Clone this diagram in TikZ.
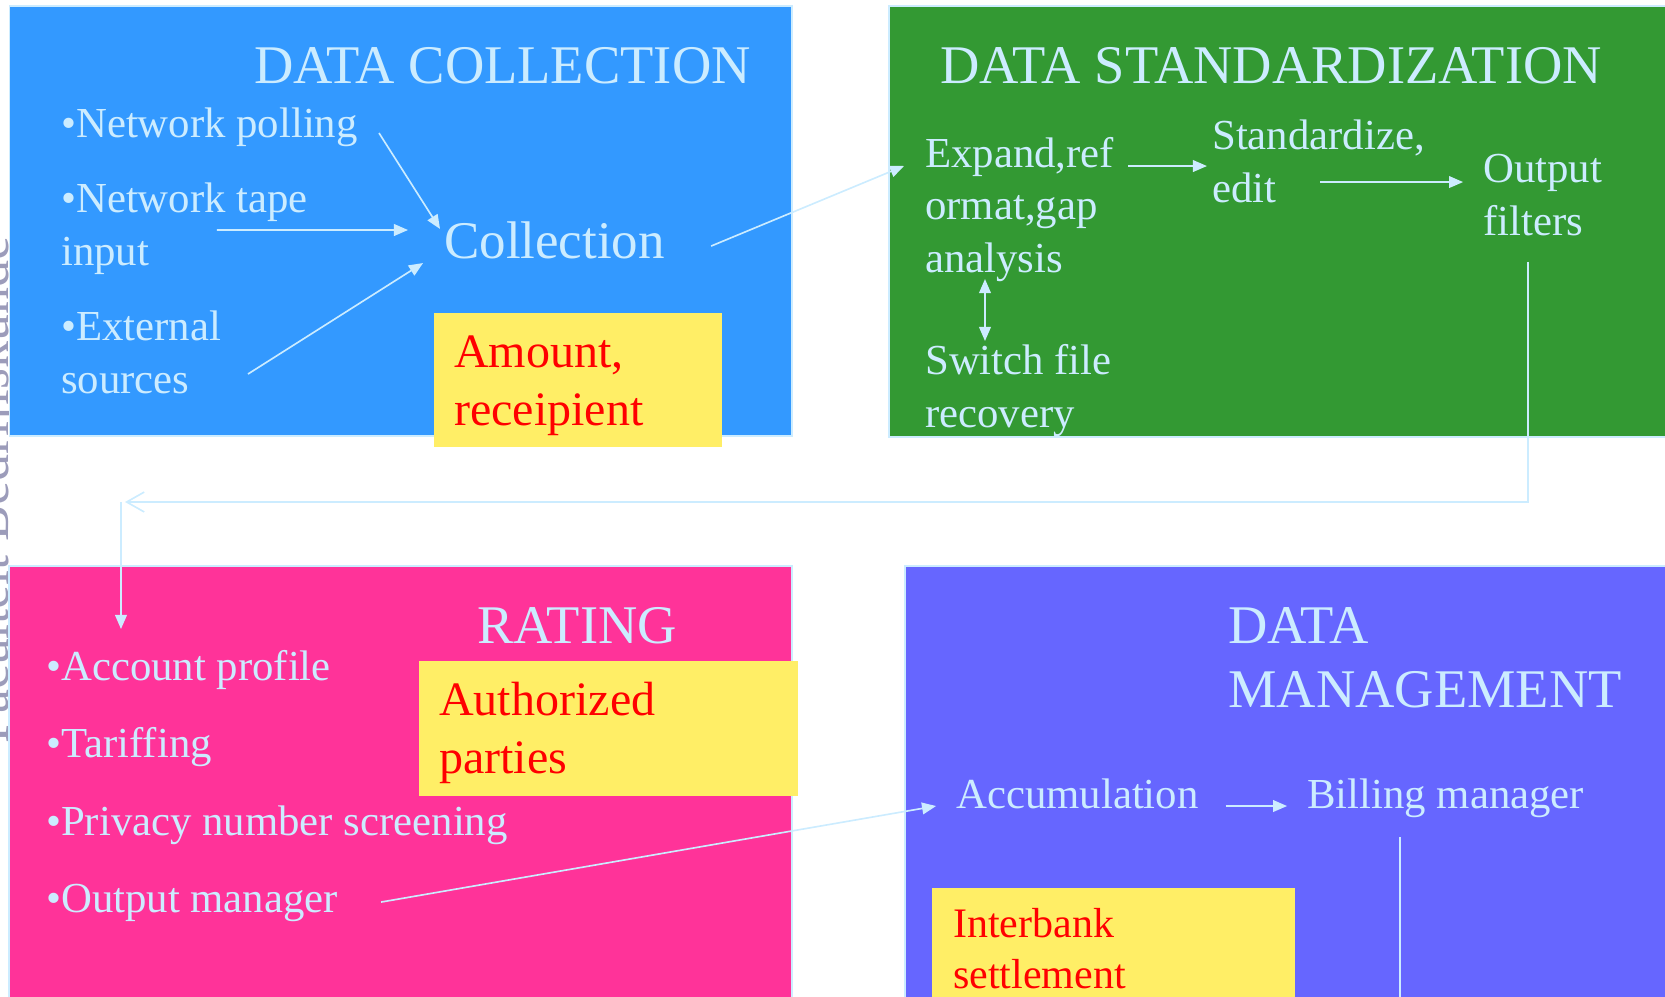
\documentclass[tikz,border=0pt]{standalone}
\usepackage{fontspec}
\setmainfont{Liberation Serif}
\usetikzlibrary{arrows.meta}

\definecolor{panelblue}{HTML}{3399FF}
\definecolor{panelgreen}{HTML}{339933}
\definecolor{panelpink}{HTML}{FF3399}
\definecolor{panelviolet}{HTML}{6666FF}
\definecolor{notebg}{HTML}{FFEE66}
\definecolor{paletext}{HTML}{CCECFF}
\definecolor{markgray}{HTML}{9C9CBA}

\begin{document}
\begin{tikzpicture}[x=0.03cm, y=-0.03cm,
  panel/.style={draw=paletext, line width=1.6pt},
  txt/.style={text=paletext, inner sep=0pt, anchor=base west, align=left,
    font=\fontsize{36.5}{44.4}\selectfont},
  head/.style={txt, font=\fontsize{46.5}{54.6}\selectfont},
  note/.style={txt, text=red, font=\fontsize{41}{48.7}\selectfont},
  link/.style={draw=paletext, line width=1.4pt},
  arr/.style={link, -{Triangle[length=12pt, width=10pt]}},
]
\useasboundingbox (0,0) rectangle (1665,996);

% ====== side watermark ======
\node[text=markgray, inner sep=0pt, rotate=90, anchor=base west,
  font=\fontsize{46}{50}\selectfont] (mark) at (8.5,744) {Faculteit Bedrijfskunde};

% ====== panels ======
\path[panel, fill=panelblue]   (9.5,6) rectangle (792,436);
\path[panel, fill=panelgreen]  (889,6) rectangle (1680,437);
\path[panel, fill=panelpink]   (9,566) rectangle (792,1010);
\path[panel, fill=panelviolet] (905,566) rectangle (1680,1010);

% yellow notes
\fill[notebg] (434,313) rectangle (722,447);
\fill[notebg] (419,661) rectangle (798,796);
\fill[notebg] (932,888) rectangle (1295,1010);

% ====== data collection ======
% (multi-line nodes sit on the baseline of their last line)
\node[head] (coltitle) at (254,83) {DATA COLLECTION};
\node[txt] (poll) at (61,137) {•Network polling};
\node[txt] (tape) at (61,265) {•Network tape\\input};
\node[txt] (ext) at (61,393) {•External\\sources};
\node[txt, font=\fontsize{45.2}{54.6}\selectfont] (coll) at (444,258) {Collection};
\node[note] (amount) at (454,425) {Amount,\\receipient};

% ====== data standardization ======
\node[head] (stdtitle) at (940,83) {DATA STANDARDIZATION};
\node[txt] (expand) at (925,272) {Expand,ref\\ormat,gap\\analysis};
\node[txt] (stdz) at (1212,202) {Standardize,\\edit};
\node[txt] (outf) at (1483,235) {Output\\filters};
\node[txt] (switch) at (925,427) {Switch file\\recovery};

% ====== rating ======
\node[head] (ratetitle) at (477,643) {RATING};
\node[txt] (acct) at (46,680) {•Account profile};
\node[txt] (tariff) at (46,757) {•Tariffing};
\node[txt] (privacy) at (46,835) {•Privacy number screening};
\node[txt] (outmgr) at (46,912) {•Output manager};
\node[note] (auth) at (439,773) {Authorized\\parties};

% ====== data management ======
\node[head] (mgmttitle) at (1228,707) {DATA\\MANAGEMENT};
\node[txt] (accum) at (956,808) {Accumulation};
\node[txt] (billing) at (1307,808) {Billing manager};
\node[txt, text=red, font=\fontsize{35.85}{42.7}\selectfont] (interbank) at (953,988) {Interbank\\settlement};

% ====== connectors ======
\draw[arr] ([xshift=18pt, yshift=3.4pt]poll.base east) -- ([xshift=-3.4pt, yshift=24.8pt]coll.base west);
\draw[arr] ([xshift=133pt, yshift=29.9pt]tape.base west) -- ([xshift=-30.7pt, yshift=23.9pt]coll.base west);
\draw[arr] ([xshift=159.6pt, yshift=16.2pt]ext.base west) -- ([xshift=-17.9pt, yshift=-4.3pt]coll.base west);
\draw[arr] ([xshift=39.3pt, yshift=10.2pt]coll.base east) -- ([xshift=-17.9pt, yshift=90.5pt]expand.base west);

\draw[arr] ([xshift=173.3pt, yshift=90.5pt]expand.base west) -- ([xshift=-4.3pt, yshift=30.7pt]stdz.base west);
\draw[arr] ([xshift=92.2pt, yshift=17.1pt]stdz.base west) -- ([xshift=-17pt, yshift=45.2pt]outf.base west);
\draw[link, {Triangle[length=12pt, width=10pt]}-{Triangle[length=12pt, width=10pt]}]
  ([xshift=51.2pt, yshift=-6pt]expand.base west) -- ([xshift=51.2pt, yshift=73.4pt]switch.base west);

% back to rating
\coordinate (corner) at (125,502);
\draw[link, -{Straight Barb[length=15pt, width=17pt]}]
  ([xshift=38.4pt, yshift=-23pt]outf.base west) |- (corner);
\draw[arr] ([xshift=-3.4pt]corner) -- ([xshift=64pt, yshift=43.5pt]acct.base west);

\draw[arr] ([xshift=36.7pt, yshift=8.5pt]outmgr.base east) -- ([xshift=-17pt, yshift=1.7pt]accum.base west);
\draw[arr] ([xshift=23pt, yshift=1.7pt]accum.base east) -- ([xshift=-17pt, yshift=1.7pt]billing.base west);
\draw[link] ([xshift=79.4pt, yshift=-24.8pt]billing.base west) -- ++(0,180);

\end{tikzpicture}
\end{document}
